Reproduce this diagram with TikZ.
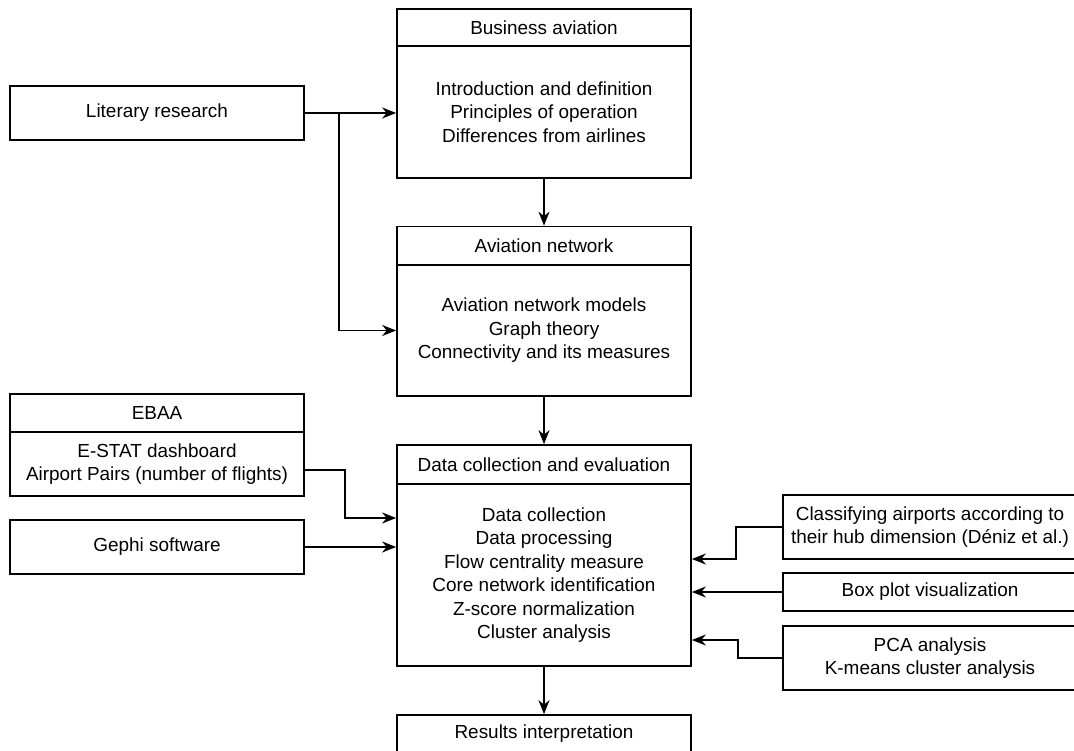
\documentclass[tikz,border=0pt]{standalone}
\usepackage{fontspec}
\setmainfont{Liberation Sans}
\usetikzlibrary{arrows.meta}
\begin{document}
\begin{tikzpicture}[
  x=1bp,y=-1bp,
  >={Stealth[length=14bp,width=11bp,inset=4.5bp]},
  stagebox/.style={draw,line width=1.7bp,minimum width=294bp,inner sep=0pt,align=center,font=\fontsize{19}{23.5}\selectfont},
  link/.style={->,line width=1.8bp}
]
  \useasboundingbox (0,0) rectangle (1074,751);
  \clip (0,0) rectangle (1074,751);

  \node[stagebox,minimum height=37bp]  (BAh) at (544,27.5) {Business aviation};
  \node[stagebox,minimum height=132bp] (BAb) at (544,112) {Introduction and definition\\Principles of operation\\Differences from airlines};
  \node[stagebox,minimum height=54bp]  (LR)  at (157,113) {Literary research};
  \node[stagebox,minimum height=39bp]  (ANh) at (544,246) {Aviation network};
  \node[stagebox,minimum height=131bp] (ANb) at (544,330.5) {Aviation network models\\Graph theory\\Connectivity and its measures};
  \node[stagebox,minimum height=38bp]  (EBh) at (157,413) {EBAA};
  \node[stagebox,minimum height=64bp]  (EBb) at (157,464) {E-STAT dashboard\\Airport Pairs (number of flights)};
  \node[stagebox,minimum height=39bp]  (DCh) at (544,464.5) {Data collection and evaluation};
  \node[stagebox,minimum height=182bp] (DCb) at (544,575) {Data collection\\Data processing\\Flow centrality measure\\Core network identification\\Z-score normalization\\Cluster analysis};
  \node[stagebox,minimum height=54bp]  (GS)  at (157,547) {Gephi software};
  \node[stagebox,minimum height=64bp]  (CA)  at (930,527) {Classifying airports according to\\their hub dimension (Déniz et al.)};
  \node[stagebox,minimum height=38bp]  (BP)  at (930,592) {Box plot visualization};
  \node[stagebox,minimum height=64bp]  (PCA) at (930,658) {PCA analysis\\K-means cluster analysis};
  \node[stagebox,minimum height=38bp]  (RI)  at (544,734) {Results interpretation};

  \coordinate (split) at (339,113);
  \draw[link] (LR.east) -- (LR.east -| BAb.west);
  \draw[link] (split) |- (ANb.west);
  \draw[link] (BAb) -- (ANh);
  \draw[link] (ANb) -- (DCh);
  \draw[link] ([yshift=-6bp]EBb.east) -- ++(40,0) |- ([yshift=57bp]DCb.west);
  \draw[link] (GS.east) -- (GS.east -| DCb.west);
  \draw[link] (CA.west) -- ++(-46,0) |- ([yshift=16bp]DCb.east);
  \draw[link] (BP.west) -- (BP.west -| DCb.east);
  \draw[link] (PCA.west) -- ++(-44,0) |- ([yshift=-65bp]DCb.east);
  \draw[link] (DCb) -- (RI);
\end{tikzpicture}
\end{document}
